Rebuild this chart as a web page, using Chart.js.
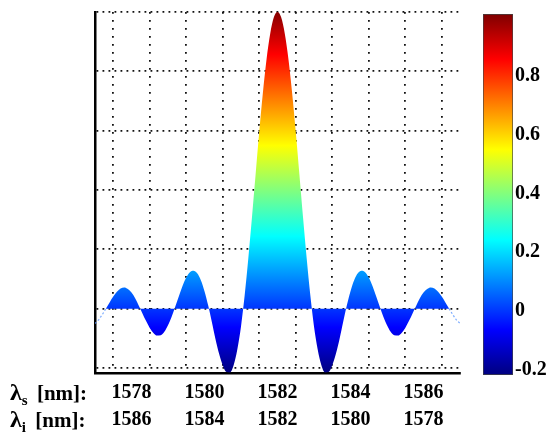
<!DOCTYPE html>
<html>
<head>
<meta charset="utf-8">
<script src="https://cdn.jsdelivr.net/npm/chart.js@4/dist/chart.umd.min.js"></script>
<style>
  body { margin: 0; background: #fff; }
  #wrap { position: relative; width: 550px; height: 436px; }
  canvas { position: absolute; top: 0; }
  #main { left: 0; }
  #cbar { left: 470px; }
  .rowlab { position: absolute; left: 10px; font: bold 21px "Liberation Serif", serif; line-height: 26px; color: #000; white-space: nowrap; }
  .rowlab .lam { font-size: 24px; }
  .rowlab .sub { font-size: 15px; position: relative; top: 5px; margin-right: 4px; }
</style>
</head>
<body>
<div id="wrap">
  <canvas id="main" width="550" height="436"></canvas>
  <canvas id="cbar" width="80" height="436"></canvas>
  <div class="rowlab" style="top:379px"><span class="lam">λ</span><span class="sub">s</span> [nm]:</div>
  <div class="rowlab" style="top:406px"><span class="lam">λ</span><span class="sub">i</span> [nm]:</div>
</div>
<script>
// signal wavelength (nm) and normalized intensity
const lambdaS = [
  1577.0, 1577.1, 1577.2, 1577.3, 1577.4, 1577.5, 1577.6, 1577.7, 1577.8, 1577.9,
  1578.0, 1578.1, 1578.2, 1578.3, 1578.4, 1578.5, 1578.6, 1578.7, 1578.8, 1578.9,
  1579.0, 1579.1, 1579.2, 1579.3, 1579.4, 1579.5, 1579.6, 1579.7, 1579.8, 1579.9,
  1580.0, 1580.1, 1580.2, 1580.3, 1580.4, 1580.5, 1580.6, 1580.7, 1580.8, 1580.9,
  1581.0, 1581.1, 1581.2, 1581.3, 1581.4, 1581.5, 1581.6, 1581.7, 1581.8, 1581.9,
  1582.0,
  1582.1, 1582.2, 1582.3, 1582.4, 1582.5, 1582.6, 1582.7, 1582.8, 1582.9, 1583.0,
  1583.1, 1583.2, 1583.3, 1583.4, 1583.5, 1583.6, 1583.7, 1583.8, 1583.9, 1584.0,
  1584.1, 1584.2, 1584.3, 1584.4, 1584.5, 1584.6, 1584.7, 1584.8, 1584.9, 1585.0,
  1585.1, 1585.2, 1585.3, 1585.4, 1585.5, 1585.6, 1585.7, 1585.8, 1585.9, 1586.0,
  1586.1, 1586.2, 1586.3, 1586.4, 1586.5, 1586.6, 1586.7, 1586.8, 1586.9, 1587.0
];
const signal = [
  -0.050, -0.038, -0.020, 0.000, 0.021, 0.041, 0.057, 0.068, 0.071, 0.066,
  0.054, 0.035, 0.010, -0.016, -0.042, -0.065, -0.082, -0.091, -0.090, -0.078,
  -0.056, -0.027, 0.007, 0.043, 0.077, 0.105, 0.123, 0.128, 0.119, 0.096,
  0.059, 0.011, -0.044, -0.102, -0.152, -0.191, -0.214, -0.215, -0.190, -0.137,
  -0.060, 0.044, 0.169, 0.307, 0.452, 0.596, 0.728, 0.841, 0.927, 0.982,
  1.000,
  0.982, 0.927, 0.841, 0.728, 0.596, 0.452, 0.307, 0.169, 0.044, -0.060,
  -0.137, -0.190, -0.215, -0.214, -0.191, -0.152, -0.102, -0.044, 0.011, 0.059,
  0.096, 0.119, 0.128, 0.123, 0.105, 0.077, 0.043, 0.007, -0.027, -0.056,
  -0.078, -0.090, -0.091, -0.082, -0.065, -0.042, -0.016, 0.010, 0.035, 0.054,
  0.066, 0.071, 0.068, 0.057, 0.041, 0.021, 0.000, -0.020, -0.038, -0.050
];

const gridLambda = [1577.5, 1578.5, 1579.5, 1580.5, 1581.5, 1582.5, 1583.5, 1584.5, 1585.5, 1586.5];
const signalTicks = [1578, 1580, 1582, 1584, 1586];
const idlerTicks = [1586, 1584, 1582, 1580, 1578];
const yGrid = [-0.2, 0, 0.2, 0.4, 0.6, 0.8, 1.0];
const cbTicks = [-0.2, 0, 0.2, 0.4, 0.6, 0.8];
const cbTickLabels = ["-0.2", "0", "0.2", "0.4", "0.6", "0.8"];

const CB_MIN = -0.217;
const CB_MAX = 1.01;
const jetPos = [0, 0.125, 0.375, 0.625, 0.875, 1];
const jetColors = ["#00007f", "#0000ff", "#00ffff", "#ffff00", "#ff0000", "#7f0000"];

function jetFill(context) {
  const chart = context.chart;
  if (!chart.chartArea) return "#0000ff";
  const y = chart.scales.y;
  const g = chart.ctx.createLinearGradient(0, y.getPixelForValue(CB_MIN), 0, y.getPixelForValue(CB_MAX));
  jetPos.forEach((p, i) => g.addColorStop(p, jetColors[i]));
  return g;
}

const points = lambdaS.map((x, i) => ({ x: x, y: signal[i] }));
const serif = "'Liberation Serif', 'Times New Roman', serif";

new Chart(document.getElementById("main"), {
  type: "line",
  data: {
    datasets: [
      {
        data: points.slice(3, 98),
        fill: "origin",
        backgroundColor: jetFill,
        borderWidth: 0,
        pointRadius: 0,
        cubicInterpolationMode: "monotone"
      },
      {
        data: points.slice(0, 4),
        fill: false,
        borderColor: "rgba(90,150,255,0.8)",
        borderWidth: 1.2,
        borderDash: [2, 2],
        pointRadius: 0
      },
      {
        data: points.slice(97),
        fill: false,
        borderColor: "rgba(90,150,255,0.8)",
        borderWidth: 1.2,
        borderDash: [2, 2],
        pointRadius: 0
      }
    ]
  },
  options: {
    responsive: false,
    animation: false,
    devicePixelRatio: 1,
    layout: { padding: { left: 95, right: 90, top: 12, bottom: 0 } },
    plugins: { legend: { display: false }, tooltip: { enabled: false } },
    scales: {
      x: {
        type: "linear",
        position: "bottom",
        min: 1577,
        max: 1587,
        weight: 0,
        afterBuildTicks: s => { s.ticks = gridLambda.map(v => ({ value: v })); },
        afterFit: s => { s.height = 0; },
        ticks: { display: false },
        grid: { color: "#111", lineWidth: 1.8, drawTicks: false },
        border: { display: true, color: "#000", width: 2.5, dash: [1.8, 6.2] }
      },
      xl: {
        type: "linear",
        position: "bottom",
        min: 1577,
        max: 1587,
        weight: 1,
        afterBuildTicks: s => { s.ticks = signalTicks.map(v => ({ value: v })); },
        afterFit: s => { s.height = 63; },
        grid: { display: false, drawTicks: false },
        border: { display: false },
        ticks: {
          autoSkip: false,
          maxRotation: 0,
          padding: 6,
          color: "#000",
          font: { family: serif, weight: "bold", size: 20, lineHeight: 1.37 },
          callback: (v, i) => [String(signalTicks[i]), String(idlerTicks[i])]
        }
      },
      y: {
        min: -0.217,
        max: 1.0,
        afterBuildTicks: s => { s.ticks = yGrid.map(v => ({ value: v })); },
        afterFit: s => { s.width = 0; },
        ticks: { display: false },
        grid: { color: "#111", lineWidth: 1.8, drawTicks: false },
        border: { display: true, color: "#000", width: 2.5, dash: [1.8, 4.2] }
      }
    }
  }
});

// colour bar
new Chart(document.getElementById("cbar"), {
  type: "bar",
  data: {
    labels: [""],
    datasets: [{
      data: [[CB_MIN, CB_MAX]],
      backgroundColor: jetFill,
      borderColor: "#444",
      borderWidth: 1,
      borderSkipped: false,
      barPercentage: 1,
      categoryPercentage: 1
    }]
  },
  options: {
    responsive: false,
    animation: false,
    devicePixelRatio: 1,
    layout: { padding: { left: 13, right: 0, top: 9, bottom: 61 } },
    plugins: { legend: { display: false }, tooltip: { enabled: false } },
    scales: {
      x: { display: false },
      y: {
        position: "right",
        min: CB_MIN,
        max: CB_MAX,
        afterBuildTicks: s => { s.ticks = cbTicks.map(v => ({ value: v })); },
        afterFit: s => { s.width = 37; },
        grid: { display: false, drawTicks: false },
        border: { display: false },
        ticks: {
          padding: 2,
          color: "#000",
          font: { family: serif, weight: "bold", size: 20 },
          callback: (v, i) => cbTickLabels[i]
        }
      }
    }
  }
});
</script>
</body>
</html>
